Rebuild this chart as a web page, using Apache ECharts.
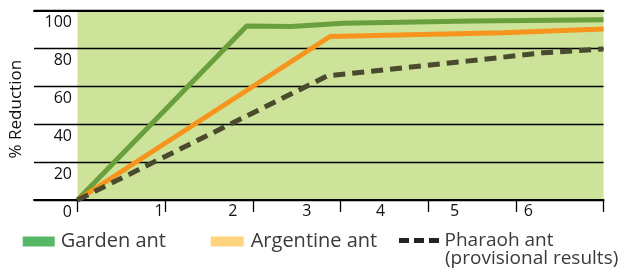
<!DOCTYPE html>
<html>
<head>
<meta charset="utf-8">
<script src="https://cdn.jsdelivr.net/npm/echarts@6/dist/echarts.min.js"></script>
<style>
html, body { margin: 0; padding: 0; background: #fff; }
#chart { width: 619px; height: 273px; }
</style>
</head>
<body>
<div id="chart"></div>
<script>
// readings: [time, % reduction]
var gardenAnt = [[0, 0], [1.93, 91.7], [2.44, 91.5], [3.03, 93.2], [4.5, 94.3], [6, 95]];
var argentineAnt = [[0, 0], [2.88, 86.2], [4.85, 88.2], [6, 90.1]];
var pharaohAnt = [[0, 0], [2.85, 65.4], [4.44, 73.2], [5.31, 77.6], [6, 79.6]];
var xTicks = [1, 2, 3, 4, 5, 6];
var yTicks = [0, 20, 40, 60, 80, 100];

var font = '"Open Sans", "Noto Sans", sans-serif';
var top_ = 10.3, bottom_ = 73, right_ = 15.5;

var myChart = echarts.init(document.getElementById('chart'));

var option = {
	animation: false,
	grid: [
		// full-width grid for the black rules
		{ left: 33, right: right_, top: top_, bottom: bottom_, show: false },
		// green plot area
		{ left: 77.5, right: right_, top: top_, bottom: bottom_, show: true,
		  backgroundColor: '#cde399', borderWidth: 0, z: 0 },
		// x labels (they do not line up with the ticks in the original)
		{ left: 159.1, right: 90.7, top: top_, bottom: bottom_, show: false }
	],
	legend: [
		{ left: 22.7, top: 229.5, padding: 0, itemWidth: 32, itemHeight: 10, itemGap: 0,
		  data: [{ name: 'Garden ant', icon: 'rect', itemStyle: { color: '#57b866' } }],
		  textStyle: { fontFamily: font, fontSize: 20, color: '#3a3a3a', lineHeight: 24, padding: [0, 0, 0, 1] } },
		{ left: 210.7, top: 229.5, padding: 0, itemWidth: 33, itemHeight: 10, itemGap: 0,
		  data: [{ name: 'Argentine ant', icon: 'rect', itemStyle: { color: '#ffd47f' } }],
		  textStyle: { fontFamily: font, fontSize: 20, color: '#3a3a3a', lineHeight: 24, padding: [0, 0, 0, 2] } },
		{ left: 399, top: 228.5, padding: 0, itemWidth: 41, itemHeight: 5, itemGap: 0,
		  data: [{ name: 'Pharaoh ant', icon: 'path://M0,0h10v5h-10z M15,0h10v5h-10z M30,0h10v5h-10z',
		           itemStyle: { color: '#222222' } }],
		  textStyle: { fontFamily: font, fontSize: 19, color: '#3a3a3a', lineHeight: 24 } }
	],
	graphic: [
		{ type: 'text', left: 445, top: 249, z: 10,
		  style: { text: '(provisional results)', fontFamily: font, fontSize: 19, fill: '#3a3a3a' } }
	],
	xAxis: [
		{ gridIndex: 0, type: 'value', position: 'bottom', min: 0, max: 1, z: 3,
		  axisLine: { show: true, lineStyle: { color: '#000', width: 2 } },
		  axisTick: { show: false }, axisLabel: { show: false }, splitLine: { show: false } },
		{ gridIndex: 1, type: 'value', min: 0, max: 6, interval: 1, z: 3,
		  axisLine: { show: false },
		  axisTick: { show: true, length: 12, lineStyle: { color: '#000', width: 1.3 } },
		  axisLabel: { show: false }, splitLine: { show: false } },
		{ gridIndex: 2, type: 'value', min: xTicks[0], max: xTicks[xTicks.length - 1], interval: 1,
		  axisLine: { show: false }, axisTick: { show: false }, splitLine: { show: false },
		  axisLabel: { show: true, margin: 3, fontFamily: font, fontSize: 16, color: '#111',
		               showMinLabel: true, showMaxLabel: true } },
		{ gridIndex: 0, type: 'value', position: 'top', min: 0, max: 1, z: 3,
		  axisLine: { show: true, lineStyle: { color: '#000', width: 2 } },
		  axisTick: { show: false }, axisLabel: { show: false }, splitLine: { show: false } }
	],
	yAxis: [
		{ gridIndex: 0, type: 'value', min: yTicks[0], max: yTicks[yTicks.length - 1], interval: 20, z: 3,
		  name: '% Reduction', nameLocation: 'middle', nameRotate: 90, nameGap: 9,
		  nameTextStyle: { fontFamily: font, fontSize: 17, color: '#111', padding: [0, 8, 0, 0] },
		  axisLine: { show: false }, axisTick: { show: false }, axisLabel: { show: false },
		  splitLine: { show: true, lineStyle: { color: '#000', width: 1.3 } } },
		{ gridIndex: 1, type: 'value', min: yTicks[0], max: yTicks[yTicks.length - 1], interval: 20,
		  axisLine: { show: false }, axisTick: { show: false }, splitLine: { show: false },
		  axisLabel: { show: true, margin: 5.5, verticalAlign: 'top', lineHeight: 16, padding: [4, 0, 0, 0],
		               fontFamily: font, fontSize: 16, color: '#111' } },
		{ gridIndex: 2, type: 'value', show: false, min: 0, max: 100 }
	],
	series: [
		{ name: 'Garden ant', type: 'line', xAxisIndex: 1, yAxisIndex: 1, z: 4,
		  symbol: 'none', data: gardenAnt,
		  lineStyle: { color: '#6a9f3e', width: 5 }, itemStyle: { color: '#6a9f3e' } },
		{ name: 'Argentine ant', type: 'line', xAxisIndex: 1, yAxisIndex: 1, z: 5,
		  symbol: 'none', data: argentineAnt,
		  lineStyle: { color: '#f7941d', width: 5 }, itemStyle: { color: '#f7941d' } },
		{ name: 'Pharaoh ant', type: 'line', xAxisIndex: 1, yAxisIndex: 1, z: 6,
		  symbol: 'none', data: pharaohAnt,
		  lineStyle: { color: '#4a4a2e', width: 5, type: [12, 7] }, itemStyle: { color: '#4a4a2e' } }
	]
};

myChart.setOption(option);
</script>
</body>
</html>
